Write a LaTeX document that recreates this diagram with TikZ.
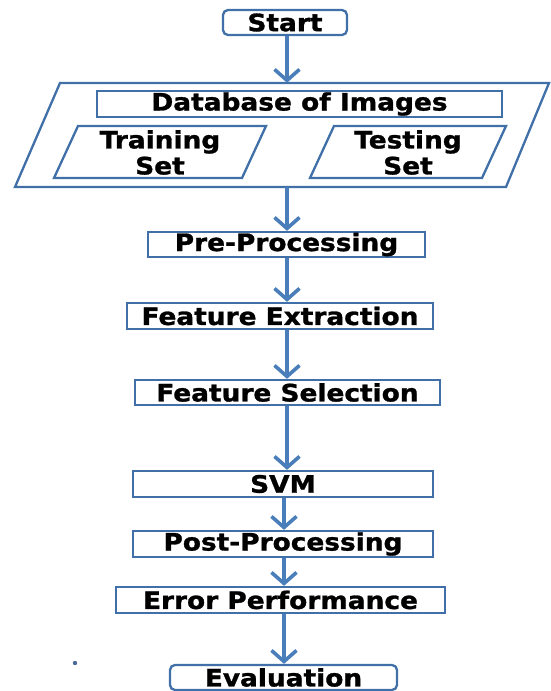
\documentclass[tikz,border=0pt]{standalone}
\usepackage{fontspec}
\setmainfont{DejaVu Sans}[FakeStretch=1.1, BoldFeatures={FakeBold=1.2}]
\usetikzlibrary{arrows.meta,calc}
\definecolor{boxblue}{HTML}{416FA8}
\definecolor{arrblue}{HTML}{4A7EBB}
\definecolor{dotcol}{HTML}{4A6A9A}
\tikzset{
  flowbox/.style={draw=boxblue, line width=2.3pt, inner sep=0pt, font=\fontsize{24}{27}\selectfont\bfseries, text=black},
  roundbox/.style={flowbox, rounded corners=5pt},
  flowarrow/.style={draw=arrblue, line width=3.6pt, -{Straight Barb[length=11pt,width=25pt]}},
  frameline/.style={draw=boxblue, line width=2.3pt, line join=miter},
  lbl/.style={inner sep=0pt, font=\fontsize{24}{26}\selectfont\bfseries, align=center}
}
\begin{document}
\begin{tikzpicture}[x=1pt, y=-1pt]
\useasboundingbox (0,0) rectangle (550,691);
% axes for the arrows
\coordinate (axisA) at (287,0);
\coordinate (axisB) at (284,0);

\node[roundbox, minimum width=124pt, minimum height=25pt] (start) at (285,22.5) {Start};

% big parallelogram frame
\node[inner sep=0pt, minimum width=440pt, minimum height=104pt] (dbframe) at (282,135) {};
\draw[frameline] (60,83) -- (549,83) -- (506,187) -- (15,187) -- cycle;

\node[flowbox, minimum width=405pt, minimum height=26pt] (dbimg) at (299.5,104) {Database of Images};

% training and testing parallelograms
\draw[frameline] (78,126) -- (266,126) -- (242,178) -- (54,178) -- cycle;
\node[lbl] (train) at (160,152.5) {Training\\Set};
\draw[frameline] (334,126) -- (506,126) -- (482,178) -- (310,178) -- cycle;
\node[lbl] (test) at (408,152.5) {Testing\\Set};

\node[flowbox, minimum width=277pt, minimum height=25pt] (pre) at (286.5,244.5) {Pre-Processing};
\node[flowbox, minimum width=306pt, minimum height=26pt] (fext) at (280,316) {Feature Extraction};
\node[flowbox, minimum width=305pt, minimum height=25pt] (fsel) at (287.5,392.5) {Feature Selection};
\node[flowbox, minimum width=300pt, minimum height=26pt] (svm) at (283,484) {SVM};
\node[flowbox, minimum width=300pt, minimum height=26pt] (post) at (283,544) {Post-Processing};
\node[flowbox, minimum width=329pt, minimum height=26pt] (err) at (280.5,600) {Error Performance};
\node[roundbox, minimum width=227pt, minimum height=25pt] (eval) at (283.5,677.5) {Evaluation};

\fill[dotcol] (75,663) circle (2.2pt);

\draw[flowarrow] (start.south -| axisA) -- (dbframe.north -| axisA);
\draw[flowarrow] (dbframe.south -| axisA) -- (pre.north -| axisA);
\draw[flowarrow] (pre.south -| axisA) -- (fext.north -| axisA);
\draw[flowarrow] (fext.south -| axisA) -- (fsel.north -| axisA);
\draw[flowarrow] (fsel.south -| axisA) -- (svm.north -| axisA);
\draw[flowarrow] (svm.south -| axisB) -- (post.north -| axisB);
\draw[flowarrow] (post.south -| axisB) -- (err.north -| axisB);
\draw[flowarrow] (err.south -| axisB) -- (eval.north -| axisB);
\end{tikzpicture}
\end{document}
